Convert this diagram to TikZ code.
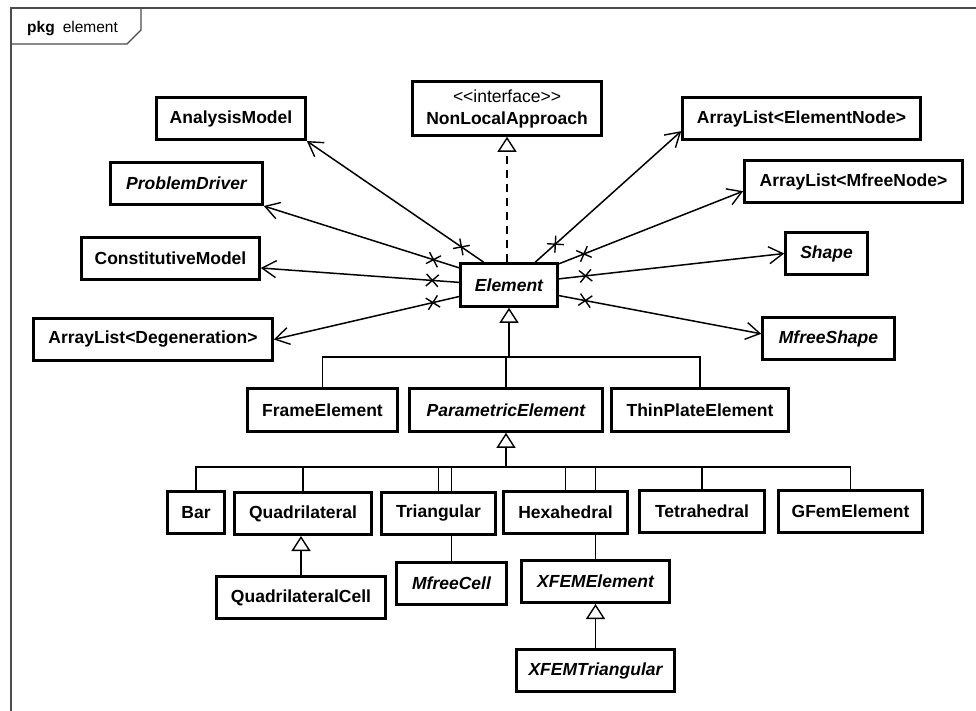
\documentclass[tikz,border=0pt]{standalone}
\usepackage{fontspec}
\setmainfont{Liberation Sans}
\usetikzlibrary{arrows.meta,decorations.markings,backgrounds,calc}
\begin{document}
\begin{tikzpicture}[x=1pt,y=-1pt,
  cls/.style={draw, line width=2.6pt, fill=white, inner sep=0pt,
    minimum height=42.4pt, font=\fontsize{17.5}{22}\selectfont\bfseries},
  abst/.style={cls, font=\fontsize{17.5}{22}\selectfont\bfseries\itshape},
  frame/.style={draw=black!70, line width=1.2pt},
  conn/.style={line width=1.5pt},
  gen/.style={conn, -{Triangle[open, length=15pt, width=19pt, line width=1.4pt]}},
  real/.style={gen, dash pattern=on 8pt off 6pt},
  assoc/.style={conn, -{Straight Barb[length=14pt, width=17pt, line width=1.4pt]},
    postaction={decorate},
    decoration={markings, mark=at position 27pt with
      {\draw[-, solid, line width=1.4pt] (-6pt,-6pt) -- (6pt,6pt) (-6pt,6pt) -- (6pt,-6pt);}}},
]
\useasboundingbox (0,0) rectangle (976,711);

% package frame with its name tab
\draw[frame] (976,8) -- (11,8) -- (11,711);
\draw[frame] (11,44) -- (127,44) -- (141,30) -- (141,8);
\node[anchor=base west, inner sep=0pt] (pkglabel) at (27,33)
  {\fontsize{15.5}{18}\selectfont\textbf{pkg}\hspace{8pt}element};

% classes
\node[cls]  (AnalysisModel)     at (231,118.5)   [minimum width=149pt] {AnalysisModel};
\node[abst] (ProblemDriver)     at (186.5,183.5) [minimum width=152pt] {ProblemDriver};
\node[cls]  (ConstitutiveModel) at (170.5,258.5) [minimum width=178pt] {ConstitutiveModel};
\node[cls]  (Degeneration)      at (153,339.5)   [minimum width=239pt] {ArrayList<Degeneration>};
\node[cls, align=center, minimum height=54pt] (NonLocal) at (507,108.5) [minimum width=189pt]
  {{\mdseries <\kern0pt<interface>\kern0pt>}\\NonLocalApproach};
\node[cls]  (ElementNode)       at (801.5,118.5) [minimum width=238pt] {ArrayList<ElementNode>};
\node[cls]  (MfreeNode)         at (853.5,181.5) [minimum width=218pt] {ArrayList<MfreeNode>};
\node[abst] (Shape)             at (826.5,253.5) [minimum width=82pt]  {Shape};
\node[abst] (MfreeShape)        at (828.5,338.5) [minimum width=132pt] {MfreeShape};
\node[abst] (Element)           at (509,285)     [minimum width=97pt, minimum height=43pt] {Element};

\node[cls]  (FrameElement)      at (322.5,410)   [minimum width=150pt, minimum height=43pt] {FrameElement};
\node[abst] (Parametric)        at (506,410)     [minimum width=193pt, minimum height=43pt] {ParametricElement};
\node[cls]  (ThinPlate)         at (700,410)     [minimum width=177pt, minimum height=43pt] {ThinPlateElement};

\node[cls]  (Bar)               at (196,512.5)   [minimum width=57pt]  {Bar};
\node[cls]  (Quadrilateral)     at (303,513.5)   [minimum width=137pt] {Quadrilateral};
\node[cls]  (Triangular)        at (438.5,513.5) [minimum width=114pt] {Triangular};
\node[cls]  (Hexahedral)        at (565.5,512.5) [minimum width=124pt] {Hexahedral};
\node[cls]  (Tetrahedral)       at (702,511.5)   [minimum width=125pt] {Tetrahedral};
\node[cls]  (GFemElement)       at (850.5,511.5) [minimum width=144pt] {GFemElement};

\node[cls]  (QuadrilateralCell) at (301,597.5)   [minimum width=169pt] {QuadrilateralCell};
\node[abst] (MfreeCell)         at (451.5,583.5) [minimum width=110pt] {MfreeCell};
\node[abst] (XFEMElement)       at (595.5,581.5) [minimum width=148pt] {XFEMElement};
\node[abst] (XFEMTriangular)    at (595.5,670.5) [minimum width=158pt] {XFEMTriangular};

% associations of Element
\draw[assoc] (Element.138) -- (AnalysisModel.south east);
\draw[assoc] (Element.161) -- (ProblemDriver.south east);
\draw[assoc] (Element.177) -- (ConstitutiveModel.354);
\draw[assoc] (Element.193) -- (Degeneration.east);
\draw[assoc] (Element.41)  -- (ElementNode.186);
\draw[assoc] (Element.23)  -- (MfreeNode.185);
\draw[assoc] (Element.7)   -- (Shape.west);
\draw[assoc] (Element.348) -- (MfreeShape.176);

% realization of the interface
\draw[real] (NonLocal.south |- Element.north) -- (NonLocal.south);

% subclasses of Element
\coordinate (etrunk) at (509,357);
\draw[gen] (etrunk) -- (Element.south);
\draw[conn] (FrameElement.north) |- (etrunk);
\draw[conn] (Parametric.north) |- (etrunk);
\draw[conn] (ThinPlate.north) |- (etrunk);

% subclasses of ParametricElement
\coordinate (ptrunk) at (506,467);
\draw[gen] (ptrunk) -- (Parametric.south);
\foreach \c in {Bar,Quadrilateral,Triangular,Hexahedral,Tetrahedral,GFemElement}
  \draw[conn] (\c.north) |- (ptrunk);
% these two run behind Triangular and Hexahedral
\begin{pgfonlayer}{background}
  \fill[white] (0,0) rectangle (976,711);
  \draw[conn] (MfreeCell.north) |- (ptrunk);
  \draw[conn] (XFEMElement.north) |- (ptrunk);
\end{pgfonlayer}

% further specializations
\draw[gen] (QuadrilateralCell.north) -- (QuadrilateralCell.north |- Quadrilateral.south);
\draw[gen] (XFEMTriangular.north) -- (XFEMTriangular.north |- XFEMElement.south);
\end{tikzpicture}
\end{document}
